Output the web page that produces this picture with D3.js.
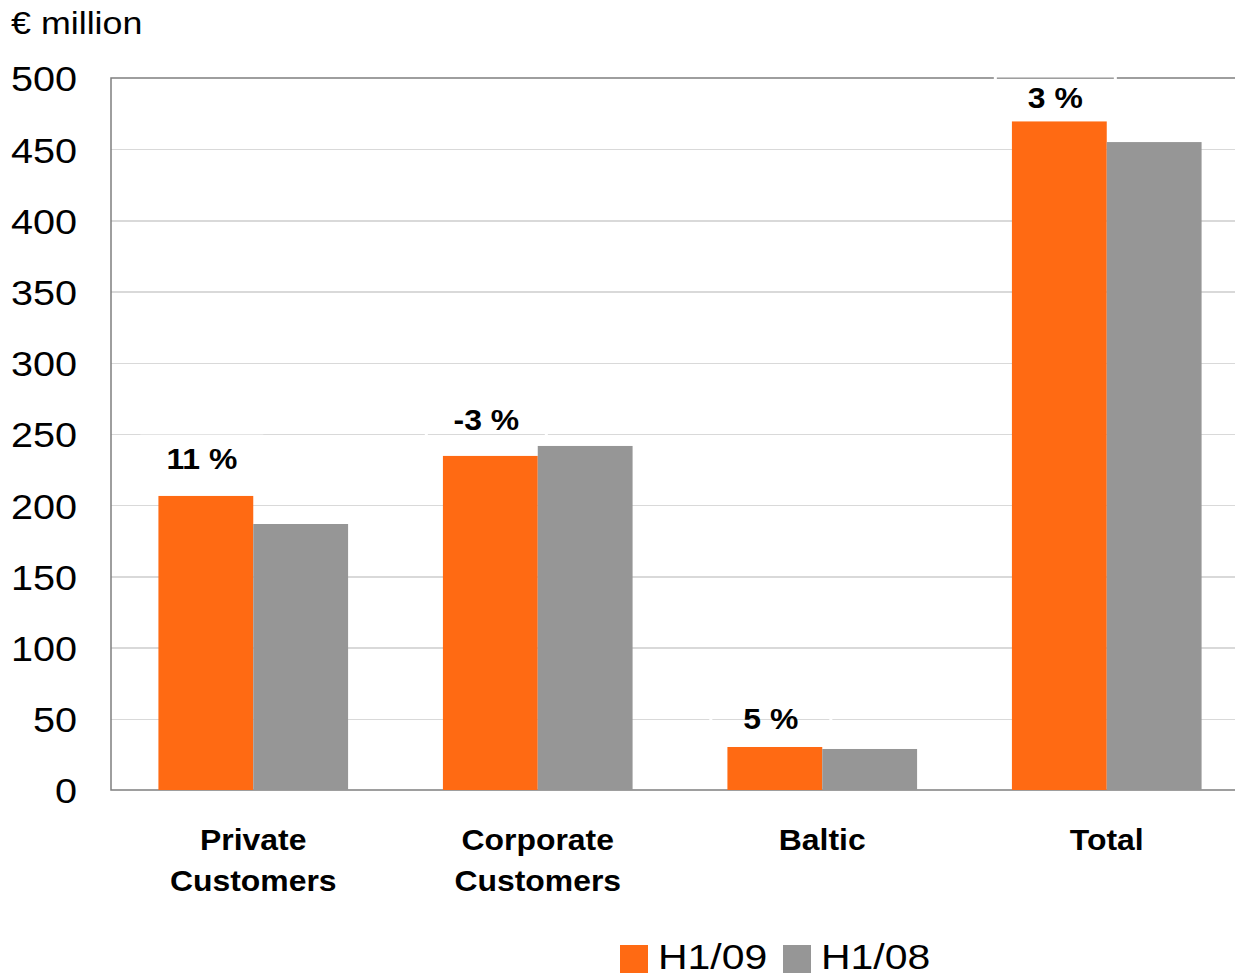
<!DOCTYPE html>
<meta charset="utf-8">
<head>
<script src="https://d3js.org/d3.v7.min.js"></script>
<style>
  body { margin: 0; background: #fff; font-family: "Liberation Sans", Arial, sans-serif; }
  .grid line { stroke: #d9d9d9; stroke-width: 1.3; shape-rendering: crispEdges; }
  .grid path { stroke-width: 0; }
  .yaxis text { font-size: 36px; fill: #000; font-family: "Liberation Sans", Arial, sans-serif; }
  .yaxis path, .yaxis line { display: none; }
</style>
</head>
<body>
<script>

// data
var categories = [["Private", "Customers"], ["Corporate", "Customers"], ["Baltic"], ["Total"]];
var seriesNames = ["H1/09", "H1/08"];
var h109 = [206.5, 234.6, 30.2, 471.2];
var h108 = [186.8, 241.6, 28.8, 455.0];
var changes = ["11 %", "-3 %", "5 %", "3 %"];
var changeAt = [233, 260, 50, 486];   // where the change labels sit, in € million
var yTicks = [0, 50, 100, 150, 200, 250, 300, 350, 400, 450, 500];
var colors = ["#ff6a13", "#969696"];

var W = 1235, H = 975;
var plotL = 111, plotR = 1249, plotT = 78, plotB = 790;
var sx = 1.1; // the original text is a bit wider than Liberation Sans

var svg = d3.select("body").append("svg")
    .attr("width", W)
    .attr("height", H);

var x = d3.scaleBand().domain(d3.range(categories.length)).range([plotL, plotR]);
var xs = d3.scaleBand().domain([0, 1]).range([0, x.bandwidth()]).paddingOuter(0.5);
var y = d3.scaleLinear().domain([0, 500]).range([plotB, plotT]);

// put a text at (px,py) stretched horizontally
function wideText(parent, px, py, k) {
  return parent.append("text")
    .attr("transform", "translate(" + px + "," + py + ") scale(" + k + ",1)");
}

// gridlines
svg.append("g")
    .attr("class", "grid")
    .attr("transform", "translate(" + plotL + ",0)")
    .call(d3.axisLeft(y).tickValues(yTicks.slice(1, -1)).tickSize(-(plotR - plotL)).tickFormat(""));

// frame (top, left, bottom)
svg.append("path")
    .attr("d", "M" + plotR + "," + plotT + "H" + plotL + "V" + plotB + "H" + plotR)
    .attr("fill", "none")
    .attr("stroke", "#7f7f7f")
    .attr("stroke-width", 1.5);

// y axis labels
svg.append("g")
    .attr("class", "yaxis")
    .attr("transform", "translate(" + (plotL - 34) + ",0)")
    .call(d3.axisLeft(y).tickValues(yTicks).tickSize(0).tickPadding(0))
    .selectAll("text")
    .attr("dy", "0.36em")
    .attr("transform", "scale(" + sx + ",1)");

wideText(svg, 11, 34, 1.12)
    .style("font-size", "32px")
    .text("€ million");

// bars
var groups = svg.selectAll(".grp")
    .data(categories)
    .enter().append("g")
    .attr("transform", function(d, i) { return "translate(" + x(i) + ",0)"; });

groups.each(function(d, i) {
  var g = d3.select(this);
  [h109[i], h108[i]].forEach(function(v, s) {
    g.append("rect")
      .attr("x", xs(s))
      .attr("width", xs.bandwidth())
      .attr("y", y(v))
      .attr("height", y(0) - y(v))
      .attr("fill", colors[s]);
  });
  var cx = xs(0) + xs.bandwidth() / 2 - 4;
  var ty = y(changeAt[i]);
  // label box outline (white) breaking gridlines
  g.append("rect")
    .attr("x", cx - 60).attr("y", ty - 22)
    .attr("width", 120).attr("height", 44)
    .attr("fill", "none")
    .attr("stroke", "#fff")
    .attr("stroke-width", 3);
  wideText(g, cx, ty, sx)
    .attr("dy", "0.36em")
    .attr("text-anchor", "middle")
    .style("font-size", "29px")
    .style("font-weight", "bold")
    .text(changes[i]);
  d.forEach(function(t, j) {
    wideText(g, x.bandwidth() / 2, 850 + j * 41, sx)
      .attr("text-anchor", "middle")
      .style("font-size", "29px")
      .style("font-weight", "bold")
      .text(t);
  });
});

// legend
var legX = [620, 783];
seriesNames.forEach(function(n, s) {
  svg.append("rect")
    .attr("x", legX[s]).attr("y", 945)
    .attr("width", 28).attr("height", 28)
    .attr("fill", colors[s]);
  wideText(svg, legX[s] + 38, 969, 1.17)
    .style("font-size", "35px")
    .text(n);
});

</script>
</body>
